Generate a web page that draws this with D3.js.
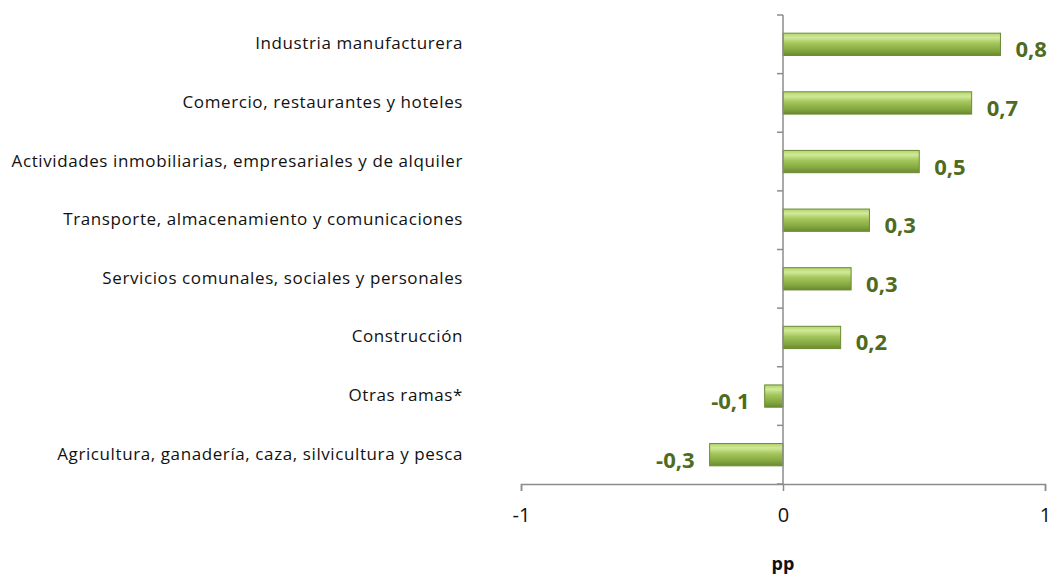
<!DOCTYPE html>
<html>
<head>
<meta charset="utf-8">
<script src="https://cdn.jsdelivr.net/npm/d3@7"></script>
<style>
  body { margin: 0; background: #fff; }
  svg { display: block; }
</style>
</head>
<body>
<div id="svg-container" style="width:1053px;height:577px;"></div>
<script>
var categories = [
  "Industria manufacturera",
  "Comercio, restaurantes y hoteles",
  "Actividades inmobiliarias, empresariales y de alquiler",
  "Transporte, almacenamiento y comunicaciones",
  "Servicios comunales, sociales y personales",
  "Construcción",
  "Otras ramas*",
  "Agricultura, ganadería, caza, silvicultura y pesca"
];
var values = [0.83, 0.72, 0.52, 0.33, 0.26, 0.22, -0.07, -0.28];
var valueLabels = ["0,8", "0,7", "0,5", "0,3", "0,3", "0,2", "-0,1", "-0,3"];
var xTicks = [-1, 0, 1];

var width = 1053, height = 577;
var margin = { top: 15, right: 8, bottom: 93, left: 521 };

var svg = d3.select("#svg-container")
            .append("svg")
            .attr("width", width)
            .attr("height", height);

var defs = svg.append("defs");
var grad = defs.append("linearGradient")
  .attr("id", "barGrad")
  .attr("x1", 0).attr("y1", 0).attr("x2", 0).attr("y2", 1);
grad.append("stop").attr("offset", "0%").attr("stop-color", "#b3d36c");
grad.append("stop").attr("offset", "20%").attr("stop-color", "#d0ea98");
grad.append("stop").attr("offset", "45%").attr("stop-color", "#a4c65c");
grad.append("stop").attr("offset", "80%").attr("stop-color", "#82a53e");
grad.append("stop").attr("offset", "100%").attr("stop-color", "#6a8a2e");

var g = svg.append("g")
  .attr("transform", "translate(" + margin.left + "," + margin.top + ")");

var innerW = width - margin.left - margin.right;
var innerH = height - margin.top - margin.bottom;

var scaleX = d3.scaleLinear().domain([-1, 1]).range([0, innerW]);
var scaleY = d3.scaleBand().domain(categories).range([0, innerH]).paddingInner(0.62).paddingOuter(0.31);
var band = d3.scaleBand().domain(categories).range([0, innerH]);

// bars
g.selectAll("rect.bar")
  .data(values)
  .enter().append("rect")
  .attr("class", "bar")
  .attr("x", function(d) { return scaleX(Math.min(0, d)); })
  .attr("y", function(d, i) { return scaleY(categories[i]); })
  .attr("width", function(d) { return Math.abs(scaleX(d) - scaleX(0)); })
  .attr("height", scaleY.bandwidth())
  .attr("fill", "url(#barGrad)")
  .attr("stroke", "#6b8a34")
  .attr("stroke-width", 1);

// value labels
g.selectAll("text.val")
  .data(values)
  .enter().append("text")
  .attr("class", "val")
  .attr("x", function(d) { return d >= 0 ? scaleX(d) + 15 : scaleX(d) - 15; })
  .attr("y", function(d, i) { return band(categories[i]) + band.bandwidth() / 2 + 13; })
  .attr("text-anchor", function(d) { return d >= 0 ? "start" : "end"; })
  .attr("font-family", "'Open Sans', sans-serif")
  .attr("font-weight", "bold")
  .attr("font-size", "22px")
  .attr("fill", "#4f6b1f")
  .text(function(d, i) { return valueLabels[i]; });

// y axis line and ticks
var axisColor = "#8c8c8c";
g.append("line")
  .attr("x1", scaleX(0)).attr("x2", scaleX(0))
  .attr("y1", 0).attr("y2", innerH)
  .attr("stroke", axisColor).attr("stroke-width", 1.5);
var yTicks = d3.range(categories.length + 1).map(function(i) { return i * band.step(); });
g.selectAll("line.ytick")
  .data(yTicks)
  .enter().append("line")
  .attr("class", "ytick")
  .attr("x1", scaleX(0) - 6).attr("x2", scaleX(0))
  .attr("y1", function(d) { return d; }).attr("y2", function(d) { return d; })
  .attr("stroke", axisColor).attr("stroke-width", 1.5);

// category labels
svg.selectAll("text.cat")
  .data(categories)
  .enter().append("text")
  .attr("class", "cat")
  .attr("x", 463)
  .attr("y", function(d) { return margin.top + band(d) + band.bandwidth() / 2 + 5; })
  .attr("text-anchor", "end")
  .attr("font-family", "'Open Sans', sans-serif")
  .attr("font-size", "17px")
  .attr("letter-spacing", "0.6px")
  .attr("fill", "#111")
  .text(function(d) { return d; });

// x axis
var xAxis = g.append("g")
  .attr("transform", "translate(0," + innerH + ")")
  .call(d3.axisBottom(scaleX).tickValues(xTicks).tickSize(7).tickPadding(17)
        .tickFormat(function(d) { return String(d).replace("−", "-"); }));
xAxis.select(".domain").attr("stroke", axisColor).attr("stroke-width", 1.5);
xAxis.selectAll(".tick line").attr("stroke", axisColor).attr("stroke-width", 1.5);
xAxis.selectAll(".tick text")
  .attr("font-family", "'Open Sans', sans-serif")
  .attr("font-size", "20px")
  .attr("fill", "#111");

svg.append("text")
  .attr("x", margin.left + scaleX(0))
  .attr("y", 570)
  .attr("text-anchor", "middle")
  .attr("font-family", "'Open Sans', sans-serif")
  .attr("font-weight", "bold")
  .attr("font-size", "18px")
  .attr("fill", "#111")
  .text("pp");
</script>
</body>
</html>
